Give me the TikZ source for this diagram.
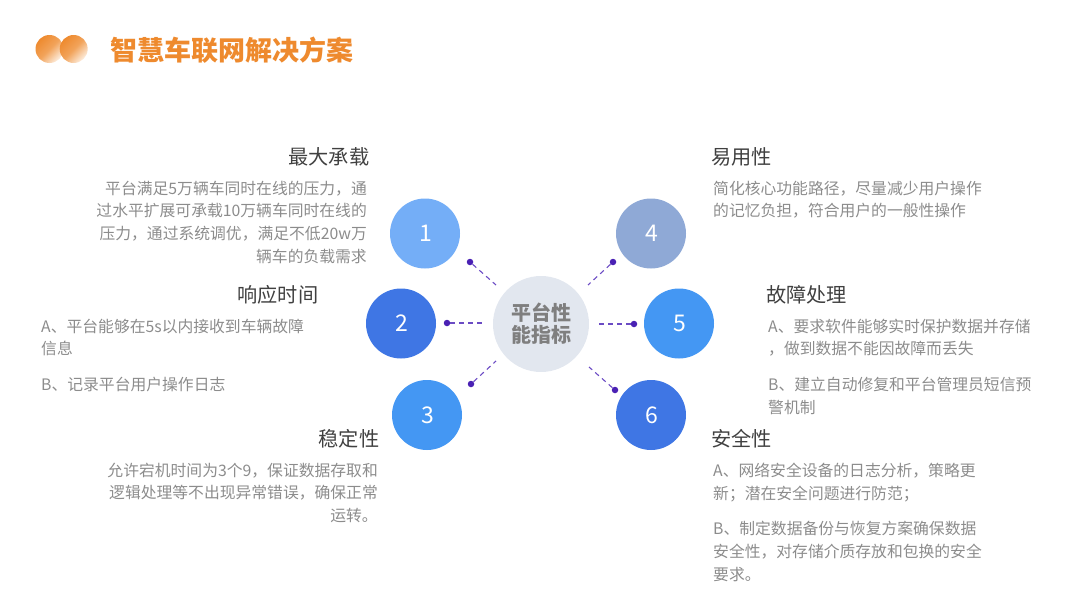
\documentclass[tikz,border=0pt]{standalone}
\usepackage{fontspec}
\setmainfont{Noto Sans CJK SC}
\usepackage{xcolor}
\usetikzlibrary{positioning}
\definecolor{figOrange}{HTML}{EE8A2E}
\definecolor{figPale}{HTML}{FDEEDF}
\definecolor{figSky}{HTML}{74AEF7}
\definecolor{figRoyal}{HTML}{3F76E4}
\definecolor{figAzure}{HTML}{4497F3}
\definecolor{figSlate}{HTML}{8FA9D6}
\definecolor{figHub}{HTML}{E2E7EF}
\definecolor{figInk}{HTML}{404040}
\definecolor{figBody}{HTML}{8C8C8C}
\definecolor{figHubText}{HTML}{7F7F7F}
\definecolor{figDot}{HTML}{4A21B4}
\definecolor{figDash}{HTML}{6B4BC4}

\begin{document}
\begin{tikzpicture}[
  x=1pt, y=-1pt,
  logodot/.style={circle, minimum size=28pt, inner sep=0pt,
    top color=figOrange, bottom color=figPale, middle color=figOrange!75!figPale, shading angle=45},
  heading/.style={font=\fontsize{27}{32}\selectfont\bfseries, text=figOrange, inner sep=0pt},
  numdot/.style={circle, minimum size=70pt, inner sep=0pt, text=white,
    font=\fontsize{23}{26}\selectfont},
  hub/.style={circle, fill=figHub, minimum size=96pt, inner sep=0pt, align=center,
    text=figHubText, font=\fontsize{20}{22}\selectfont\bfseries},
  pin/.style={circle, fill=figDot, minimum size=6.5pt, inner sep=0pt},
  conn/.style={figDash, line width=1.1pt, dash pattern=on 5pt off 4pt},
  title/.style={font=\fontsize{20.2}{24}\selectfont, text=figInk, inner sep=0pt},
  body/.style={font=\fontsize{15.8}{22.9}\selectfont, text=figBody, inner sep=0pt},
]
\useasboundingbox (0,0) rectangle (1080,608);

% === Heading ===
\node[logodot] (logo-a) at (49.5,49) {};
\node[logodot] (logo-b) at (73.7,49) {};
\node[heading, anchor=west] (head) at (110,50) {智慧车联网解决方案};

% === Hub and numbered circles ===
\node[hub] (hub) at (541,324) {平台性\\能指标};
\foreach \i/\x/\y/\col in {1/425/233.5/figSky, 2/401/323.5/figRoyal, 3/427/415/figAzure,
                           4/651/233.5/figSlate, 5/679/323.5/figAzure, 6/651/415/figRoyal} {
  \node[numdot, fill=\col] (num\i) at (\x,\y) {\hspace{1.5pt}\i};
}

% === Connectors ===
\foreach \i/\x/\y/\u/\v in {1/470/262/496/285, 2/447/323/484/323, 3/471/384/496/361,
                            4/613/262/588/285, 5/634/324/598/324, 6/615/390/589/367} {
  \node[pin] (pin\i) at (\x,\y) {};
  \coordinate (end\i) at (\u,\v);
  \draw[conn] (pin\i) -- (end\i);
}

% === Left texts ===
\node[title, anchor=east] (t1) at (369.5,156.5) {最大承载};
\node[body, anchor=north east, align=right] (b1) at (367,180.5)
  {平台满足5万辆车同时在线的压力，通\\过水平扩展可承载10万辆车同时在线的\\压力，通过系统调优，满足不低20w万\\辆车的负载需求};
\node[title, anchor=east] (t2) at (318.5,294.5) {响应时间};
\node[body, anchor=north west, align=left] (b2) at (41,318.5)
  {A、平台能够在5s以内接收到车辆故障\\信息\\[13pt]B、记录平台用户操作日志};
\node[title, anchor=east] (t3) at (379.5,438.5) {稳定性};
\node[body, anchor=north east, align=right] (b3) at (378,462.5)
  {允许宕机时间为3个9，保证数据存取和\\逻辑处理等不出现异常错误，确保正常\\运转。};

% === Right texts ===
\node[title, anchor=west] (t4) at (711,156.5) {易用性};
\node[body, anchor=north west, align=left] (b4) at (713,180.5)
  {简化核心功能路径，尽量减少用户操作\\的记忆负担，符合用户的一般性操作};
\node[title, anchor=west] (t5) at (766,294.5) {故障处理};
\node[body, anchor=north west, align=left] (b5) at (768,318.5)
  {A、要求软件能够实时保护数据并存储\\，做到数据不能因故障而丢失\\[13pt]B、建立自动修复和平台管理员短信预\\警机制};
\node[title, anchor=west] (t6) at (711,438.5) {安全性};
\node[body, anchor=north west, align=left] (b6) at (713,462.5)
  {A、网络安全设备的日志分析，策略更\\新；潜在安全问题进行防范；\\[13pt]B、制定数据备份与恢复方案确保数据\\安全性，对存储介质存放和包换的安全\\要求。};

\end{tikzpicture}
\end{document}
